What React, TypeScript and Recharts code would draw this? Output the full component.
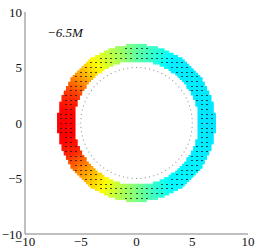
import React from 'react';
import { ScatterChart, Scatter, XAxis, YAxis } from 'recharts';

const AXIS_TICKS = [-10, -5, 0, 5, 10];
const PANEL_LABEL = '−6.5M';

// ring (disk) extent and the dotted horizon circle, in axis units
const ringRadii = [5.6, 7.05];
const horizonRadius = 5;

// jet colour level round the ring, by polar angle (deg, CCW from +x)
const colorAngles = [0, 60, 75, 90, 100, 115, 125, 140, 155, 170, 190, 205, 220, 240, 255, 270, 285, 300, 360];
const colorLevels = [0.35, 0.36, 0.42, 0.47, 0.52, 0.58, 0.63, 0.72, 0.82, 0.87, 0.88, 0.84, 0.74, 0.64, 0.56, 0.5, 0.43, 0.37, 0.35];

// quiver grid spacing (x, y) in axis units
const arrowStep = [0.45, 0.42];

const clamp = (v: number) => Math.max(0, Math.min(1, v));
const jet = (v: number) => {
  const r = clamp(1.5 - Math.abs(4 * v - 3));
  const g = clamp(1.5 - Math.abs(4 * v - 2));
  const b = clamp(1.5 - Math.abs(4 * v - 1));
  return `rgb(${Math.round(r * 255)},${Math.round(g * 255)},${Math.round(b * 255)})`;
};

const levelAt = (deg: number) => {
  for (let k = 1; k < colorAngles.length; k++) {
    if (deg <= colorAngles[k]) {
      const t = (deg - colorAngles[k - 1]) / (colorAngles[k] - colorAngles[k - 1]);
      return colorLevels[k - 1] + t * (colorLevels[k] - colorLevels[k - 1]);
    }
  }
  return colorLevels[colorLevels.length - 1];
};

const angleOf = (x: number, y: number) => {
  const a = (Math.atan2(y, x) * 180) / Math.PI;
  return a < 0 ? a + 360 : a;
};

// raster cells of the ring
const ringCells: { x: number; y: number; c: string }[] = [];
for (let i = -36; i <= 36; i++) {
  for (let j = -36; j <= 36; j++) {
    const x = i * 0.2;
    const y = j * 0.2;
    const r = Math.hypot(x, y);
    if (r >= ringRadii[0] && r <= ringRadii[1]) ringCells.push({ x, y, c: jet(levelAt(angleOf(x, y))) });
  }
}

// quiver points inside the ring
const arrows: { x: number; y: number }[] = [];
for (let i = -16; i <= 16; i++) {
  for (let j = -17; j <= 17; j++) {
    const x = i * arrowStep[0];
    const y = j * arrowStep[1];
    const r = Math.hypot(x, y);
    if (r >= ringRadii[0] + 0.15 && r <= ringRadii[1] - 0.2) arrows.push({ x, y });
  }
}

const horizon: { x: number; y: number }[] = [];
for (let k = 0; k < 80; k++) {
  const a = (k * 4.5 * Math.PI) / 180;
  horizon.push({ x: horizonRadius * Math.cos(a), y: horizonRadius * Math.sin(a) });
}

const fmt = (v: number) => String(v).replace('-', '−');

const tickStyle = { fill: '#111', fontSize: 13, fontFamily: 'Liberation Serif, serif' };

const CellShape = (p: any) => (
  <rect x={p.cx - 1.4} y={p.cy - 1.4} width={2.8} height={2.8} fill={p.payload.c} />
);

const ArrowShape = (p: any) => (
  <rect x={Math.round(p.cx) - 1} y={Math.round(p.cy)} width={2} height={1} fill="#1a1a1a" fillOpacity={0.75} />
);

const DotShape = (p: any) => (
  <rect x={p.cx - 0.5} y={p.cy - 0.5} width={1} height={1} fill="#8a8a8a" />
);

export default function App() {
  return (
    <div style={{ position: 'absolute', left: 0, top: 0, width: 258, height: 249, background: '#fff' }}>
      <ScatterChart width={258} height={249} margin={{ top: 12, right: 10, bottom: 0, left: 0 }}>
        <XAxis
          type="number"
          dataKey="x"
          domain={[-10, 10]}
          ticks={AXIS_TICKS}
          interval={0}
          allowDataOverflow
          stroke="#808080"
          tickLine={false}
          tickSize={0}
          tickMargin={3}
          height={15}
          tick={tickStyle}
          tickFormatter={fmt}
        />
        <YAxis
          type="number"
          dataKey="y"
          domain={[-10, 10]}
          ticks={AXIS_TICKS}
          interval={0}
          allowDataOverflow
          stroke="#808080"
          tickLine={false}
          tickSize={0}
          tickMargin={3}
          width={25}
          tick={tickStyle}
          tickFormatter={fmt}
        />
        <Scatter data={ringCells} shape={CellShape} isAnimationActive={false} />
        <Scatter data={horizon} shape={DotShape} isAnimationActive={false} />
        <Scatter data={arrows} shape={ArrowShape} isAnimationActive={false} />
      </ScatterChart>
      <div
        style={{
          position: 'absolute',
          left: 47,
          top: 25,
          fontFamily: 'Liberation Serif, serif',
          fontStyle: 'italic',
          fontSize: 13,
          color: '#111',
        }}
      >
        {PANEL_LABEL}
      </div>
    </div>
  );
}
